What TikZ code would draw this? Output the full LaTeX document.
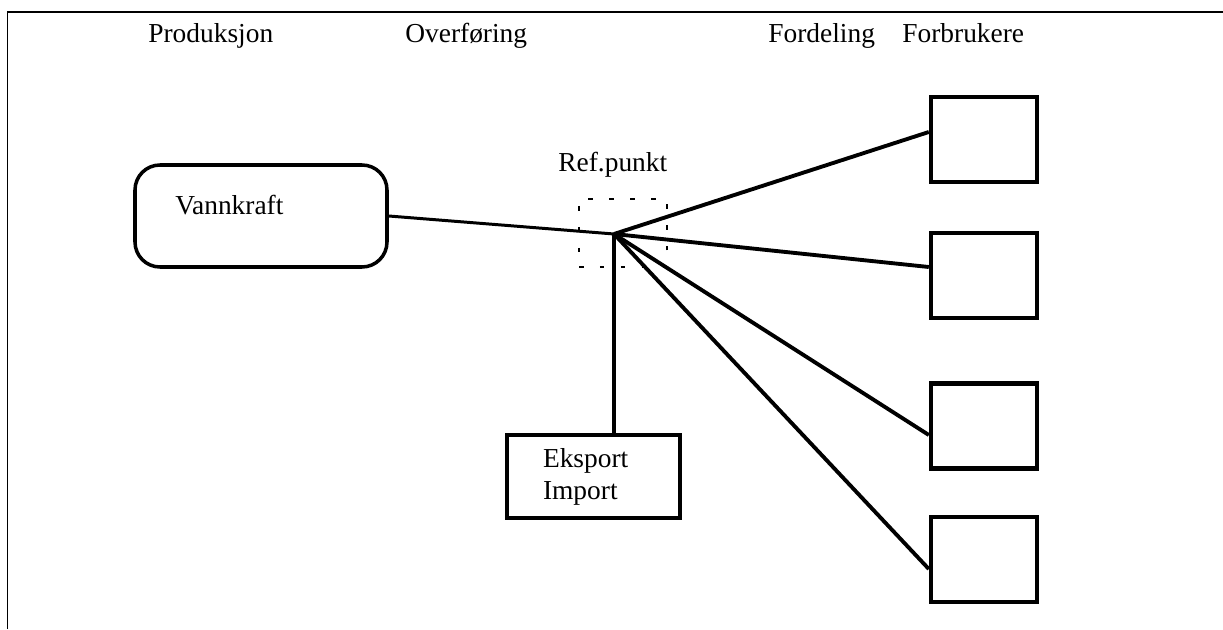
\documentclass[tikz,border=0pt]{standalone}
\usepackage{fontspec}
\setmainfont{Liberation Serif}
\usepackage{tikz}
\usetikzlibrary{shapes}

\begin{document}
\begin{tikzpicture}[
		every node/.style={font=\fontsize{15.6}{18.2}\selectfont},
		lbl/.style={anchor=base west,inner xsep=0pt},
		userbox/.style={draw,line width=2.5pt,minimum width=2.12cm,minimum height=1.7cm},
		prodbox/.style={draw,line width=2pt,rounded corners=0.5cm,minimum width=5.04cm,minimum height=2.04cm},
		refbox/.style={draw,line width=0.6pt,dash pattern=on 2.6pt off 9.3pt,minimum width=1.76cm,minimum height=1.36cm},
		wire/.style={line width=2.2pt}
	]
		\useasboundingbox (0,0) rectangle (24.46,12.58);
		\coordinate (TL) at (0.15,12.34);
		\coordinate (TR) at (24.46,12.34);
		\coordinate (BL) at (0.15,0);
		\draw[line width=1pt] (BL) -- (TL) -- (TR);
		%
		\node[lbl] (P) at (2.96,11.72) {Produksjon};
		\node[lbl] (O) at (8.1,11.72) {Overføring};
		\node[lbl] (D) at (15.36,11.72) {Fordeling};
		\node[lbl] (F) at (18.04,11.72) {Forbrukere};
		%
		\node[prodbox] (VK) at (5.22,8.26) {};
		\node[lbl] (VKt) at (3.5,8.28) {Vannkraft};
		\node[refbox] (RP) at (12.46,7.92) {};
		\node[lbl] (RPt) at (11.16,9.14) {Ref.punkt};
		\coordinate (H) at (12.28,7.9);
		\node[draw,line width=2pt,align=left,text width=2.02cm,inner xsep=0.72cm,minimum height=1.66cm] (EI) at (11.87,3.05) {Eksport\\Import};
		%
		\node[userbox] (F1) at (19.68,9.79) {};
		\node[userbox] (F2) at (19.68,7.07) {};
		\node[userbox] (F3) at (19.68,4.06) {};
		\node[userbox] (F4) at (19.68,1.39) {};
		%
		\draw[line width=1.7pt] (VK.east) -- (H);
		\path[wire]
			(H) edge ([yshift=0.15cm]F1.west)
			(H) edge ([yshift=0.17cm]F2.west)
			(H) edge ([yshift=-0.18cm]F3.west)
			(H) edge ([yshift=-0.19cm]F4.west)
			(H) edge (H |- EI.north);
	\end{tikzpicture}
\end{document}
